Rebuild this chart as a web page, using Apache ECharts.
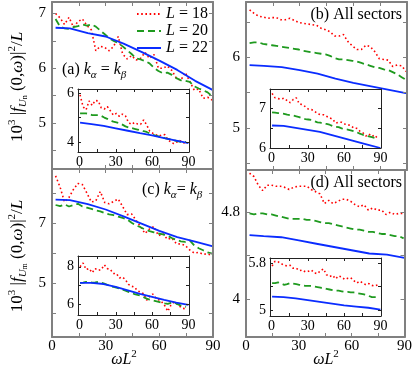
<!DOCTYPE html>
<html>
<head>
<meta charset="utf-8">
<script src="https://cdn.jsdelivr.net/npm/echarts@6/dist/echarts.min.js"></script>
<style>
html, body { margin: 0; padding: 0; background: #fff; }
#chart { width: 415px; height: 368px; }
</style>
</head>
<body>
<div id="chart"></div>
<script>
// x grids
var xMain = [2,4.5,7,9.5,12,14.5,17,19.5,22,24.5,27,29.5,32,34.5,37,39.5,42,44.5,47,49.5,52,54.5,57,59.5,62,64.5,67,69.5,72,74.5,77,79.5,82,84.5,87,89.5];
var xSmooth = [2,10,20,30,40,50,60,70,80,90];
var xIn = [0.5,3,5.5,8,10.5,13,15.5,18,20.5,23,25.5,28,30.5,33,35.5,38,40.5,43,45.5,48,50.5,53,55.5,58,60.5,63,65.5,68,70.5,73,75.5,78,80.5,83,85.5,88];
var xInSmooth = [0.5,10,20,30,40,50,60,70,80,90];

// (a) k_alpha = k_beta, U_n
var aRed = [7.0,6.92,6.8,6.93,6.75,6.85,6.9,6.78,6.7,6.32,6.4,6.38,6.32,6.4,6.58,6.26,6.17,6.23,6.15,6.18,6.29,6.18,6.25,6.0,6.0,6.04,5.96,5.82,5.78,5.92,5.76,5.6,5.62,5.45,5.47,5.42];
var aGreen = [6.9,6.76,6.73,6.72,6.75,6.77,6.8,6.78,6.8,6.76,6.69,6.62,6.55,6.5,6.46,6.4,6.33,6.26,6.18,6.16,6.13,6.09,6.01,5.95,5.91,5.92,5.88,5.82,5.78,5.77,5.75,5.67,5.63,5.6,5.56,5.49];
var aBlue = [6.74,6.73,6.64,6.58,6.45,6.3,6.14,5.97,5.77,5.6];
var iaRed = [5.93,5.44,5.32,5.68,5.5,5.7,5.68,5.4,5.35,5.45,5.28,5.1,5.17,5.05,5.14,5.07,4.8,4.72,4.8,4.74,4.72,4.9,4.7,4.45,4.36,4.3,4.24,4.28,4.3,4.1,4.0,3.93,4.0,4.06,3.96,3.98];
var iaGreen = [5.17,5.17,5.17,5.14,5.1,5.1,5.1,5.07,5.0,4.95,4.89,4.83,4.8,4.77,4.71,4.64,4.6,4.57,4.54,4.51,4.47,4.44,4.41,4.35,4.29,4.26,4.23,4.2,4.16,4.13,4.1,4.07,4.04,4.01,4.0,4.0];
var iaBlue = [4.79,4.73,4.66,4.56,4.46,4.36,4.27,4.16,4.06,3.95];

// (b) all sectors, U_n
var bRed = [6.67,6.62,6.58,6.57,6.55,6.56,6.56,6.53,6.53,6.55,6.52,6.49,6.48,6.47,6.46,6.45,6.41,6.39,6.36,6.3,6.3,6.32,6.22,6.16,6.11,6.11,6.17,6.15,6.08,5.98,5.97,5.96,5.87,5.89,5.88,5.8];
var bGreen = [6.2,6.21,6.21,6.19,6.18,6.17,6.16,6.15,6.14,6.13,6.12,6.11,6.09,6.08,6.07,6.06,6.05,6.04,6.02,5.99,5.97,5.97,5.96,5.95,5.94,5.92,5.9,5.88,5.86,5.85,5.83,5.82,5.79,5.76,5.72,5.68];
var bBlue = [5.89,5.88,5.86,5.82,5.77,5.7,5.64,5.59,5.54,5.49];
var ibRed = [7.36,7.25,7.23,7.22,7.24,7.18,7.13,7.21,7.25,7.1,7.08,7.03,6.97,6.96,6.92,6.86,6.83,6.83,6.79,6.75,6.72,6.62,6.64,6.64,6.6,6.58,6.56,6.5,6.49,6.42,6.38,6.3,6.35,6.29,6.32,6.22];
var ibGreen = [6.89,6.88,6.87,6.86,6.85,6.83,6.82,6.81,6.79,6.77,6.74,6.72,6.71,6.7,6.67,6.64,6.63,6.61,6.6,6.58,6.55,6.53,6.52,6.49,6.47,6.46,6.44,6.42,6.39,6.36,6.33,6.31,6.29,6.27,6.25,6.23];
var ibBlue = [6.56,6.55,6.5,6.45,6.4,6.32,6.24,6.16,6.08,6.0];

// (c) k_alpha = k_beta, U_m
var cRed = [8.57,8.2,7.7,7.85,8.12,8.32,8.28,8.0,7.7,7.74,8.05,7.68,7.64,7.72,7.8,7.55,7.28,7.3,7.09,6.88,6.65,6.8,6.88,6.58,6.64,6.46,6.5,6.31,6.3,6.25,6.1,6.0,6.02,5.96,5.97,5.92];
var cGreen = [7.6,7.56,7.62,7.55,7.6,7.64,7.55,7.51,7.47,7.42,7.39,7.33,7.29,7.26,7.21,7.17,7.12,7.01,6.92,6.86,6.78,6.73,6.69,6.65,6.62,6.58,6.5,6.44,6.39,6.37,6.42,6.25,6.16,6.09,6.02,5.98];
var cBlue = [7.78,7.76,7.63,7.45,7.22,6.98,6.74,6.53,6.38,6.22];
var icRed = [8.0,8.2,7.85,7.9,7.68,7.9,7.8,7.85,8.1,7.9,7.85,7.64,7.64,7.4,7.45,7.3,7.05,6.95,6.9,6.7,6.63,6.55,6.2,6.4,6.53,6.32,6.22,6.1,5.9,5.6,5.92,6.09,6.01,5.86,5.76,5.73];
var icGreen = [7.13,7.15,7.18,7.16,7.15,7.16,7.18,7.15,7.09,7.03,6.97,6.91,6.87,6.83,6.77,6.71,6.65,6.59,6.53,6.48,6.44,6.36,6.28,6.23,6.19,6.15,6.11,6.07,6.03,6.0,6.05,6.09,6.0,5.93,5.89,5.84];
var icBlue = [7.13,7.13,7.07,6.92,6.73,6.54,6.38,6.22,6.07,5.95];

// (d) all sectors, U_m
var dRed = [5.16,5.13,5.05,5.0,5.05,5.05,5.04,5.04,5.03,5.01,5.03,5.04,5.04,5.04,5.01,4.99,4.97,4.88,4.91,4.88,4.9,4.92,4.92,4.9,4.87,4.85,4.87,4.82,4.84,4.82,4.82,4.78,4.8,4.78,4.79,4.79];
var dGreen = [4.79,4.78,4.79,4.79,4.78,4.78,4.77,4.76,4.75,4.74,4.74,4.74,4.74,4.73,4.73,4.72,4.71,4.7,4.7,4.69,4.68,4.67,4.66,4.65,4.64,4.64,4.63,4.62,4.62,4.61,4.6,4.6,4.59,4.58,4.58,4.56];
var dBlue = [4.59,4.58,4.57,4.54,4.51,4.48,4.45,4.42,4.41,4.38];
var idRed = [5.75,5.83,5.82,5.79,5.76,5.75,5.76,5.71,5.71,5.67,5.68,5.65,5.66,5.68,5.63,5.62,5.67,5.7,5.6,5.57,5.59,5.53,5.58,5.56,5.52,5.54,5.55,5.5,5.46,5.49,5.46,5.43,5.45,5.42,5.41,5.43];
var idGreen = [5.46,5.46,5.47,5.45,5.43,5.44,5.46,5.45,5.44,5.43,5.42,5.41,5.41,5.41,5.4,5.39,5.38,5.37,5.36,5.35,5.34,5.33,5.33,5.32,5.31,5.31,5.3,5.3,5.29,5.28,5.27,5.26,5.24,5.22,5.22,5.22];
var idBlue = [5.23,5.22,5.2,5.17,5.14,5.11,5.08,5.06,5.04,5.01];

var names = ['L = 18', 'L = 20', 'L = 22'];
var xTicksMain = [15, 30, 45, 60, 75];
var xLabelsMain = [0, 30, 60, 90];

var FONT = '"Liberation Serif", "DejaVu Serif", serif';
var RED = '#ff0000', GREEN = '#1f9a1f', BLUE = '#0a2cff';

function pairs(xs, ys) {
  return ys.map(function (y, i) { return [xs[i], y]; });
}

var panels = [
  { grid: {left: 52, top: 2, width: 161, height: 167}, x: [0, 90], y: [4.16, 7.21],
    yTicks: [4.5, 5, 5.5, 6, 6.5, 7], yLabels: [5, 6, 7], xLabels: [],
    xs: xMain, xb: xSmooth, data: [aRed, aGreen, aBlue] },
  { grid: {left: 246, top: 2, width: 161, height: 168}, x: [0, 90], y: [4.41, 6.78],
    yTicks: [4.5, 5, 5.5, 6, 6.5], yLabels: [5, 6], xLabels: [],
    xs: xMain, xb: xSmooth, data: [bRed, bGreen, bBlue] },
  { grid: {left: 52, top: 169, width: 161, height: 168}, x: [0, 90], y: [3.2, 8.8],
    yTicks: [4, 5, 6, 7, 8], yLabels: [5, 7], xLabels: xLabelsMain,
    xs: xMain, xb: xSmooth, data: [cRed, cGreen, cBlue] },
  { grid: {left: 246, top: 170, width: 161, height: 167}, x: [0, 90], y: [3.65, 5.19],
    yTicks: [4, 4.4, 4.8], yLabels: [4, 4.8], xLabels: xLabelsMain,
    xs: xMain, xb: xSmooth, data: [dRed, dGreen, dBlue] },
  { inset: true, grid: {left: 78, top: 89, width: 111, height: 63}, x: [-1.2, 90.5], y: [3.59, 6.17],
    yTicks: [4, 5, 6], yLabels: [4, 6], xLabels: xLabelsMain,
    xs: xIn, xb: xInSmooth, data: [iaRed, iaGreen, iaBlue] },
  { inset: true, grid: {left: 270, top: 89, width: 111, height: 59}, x: [-1.2, 90.5], y: [6.0, 7.47],
    yTicks: [6.5, 7], yLabels: [6, 7], xLabels: xLabelsMain,
    xs: xIn, xb: xInSmooth, data: [ibRed, ibGreen, ibBlue] },
  { inset: true, grid: {left: 78, top: 256, width: 111, height: 59}, x: [-1.2, 90.5], y: [5.4, 8.58],
    yTicks: [6, 7, 8], yLabels: [6, 8], xLabels: xLabelsMain,
    xs: xIn, xb: xInSmooth, data: [icRed, icGreen, icBlue] },
  { inset: true, grid: {left: 270, top: 258, width: 111, height: 58}, x: [-1.2, 90.5], y: [4.9, 5.885],
    yTicks: [5, 5.4, 5.8], yLabels: [5, 5.8], xLabels: xLabelsMain,
    xs: xIn, xb: xInSmooth, data: [idRed, idGreen, idBlue] }
];

var grids = [], xAxes = [], yAxes = [], series = [];

panels.forEach(function (p, gi) {
  var inset = !!p.inset;
  var zAxis = inset ? 22 : 3;
  var frame = { color: inset ? '#222' : '#808080', width: inset ? 1 : 2 };
  var g = Object.assign({}, p.grid);
  if (inset) {
    g.show = true; g.backgroundColor = '#fff'; g.borderWidth = 0; g.z = 20;
  }
  grids.push(g);
  var fs = inset ? 14 : 15;
  ['bottom', 'top'].forEach(function (pos) {
    xAxes.push({
      gridIndex: gi, type: 'value', position: pos, min: p.x[0], max: p.x[1], z: zAxis,
      axisLine: { show: true, onZero: false, lineStyle: frame },
      axisTick: { show: true, inside: true, length: inset ? 3 : 4, customValues: xTicksMain,
                  lineStyle: { color: frame.color, width: 1 } },
      axisLabel: { show: pos === 'bottom' && p.xLabels.length > 0, customValues: p.xLabels,
                   margin: inset ? 3 : 2, color: '#000', fontFamily: FONT, fontSize: fs },
      splitLine: { show: false }
    });
  });
  ['left', 'right'].forEach(function (pos) {
    yAxes.push({
      gridIndex: gi, type: 'value', position: pos, min: p.y[0], max: p.y[1], z: zAxis,
      axisLine: { show: true, onZero: false, lineStyle: frame },
      axisTick: { show: true, inside: true, length: inset ? 3 : 4, customValues: p.yTicks,
                  lineStyle: { color: frame.color, width: 1 } },
      axisLabel: { show: pos === 'left', customValues: p.yLabels,
                   margin: inset ? 4 : 6, color: '#000', fontFamily: FONT, fontSize: fs },
      splitLine: { show: false }
    });
  });
  var styles = [
    { color: RED, width: 1.6, type: [1.6, 2.6] },
    { color: GREEN, width: 1.8, type: [7, 4] },
    { color: BLUE, width: 1.8, type: 'solid' }
  ];
  p.data.forEach(function (ys, k) {
    series.push({
      name: names[k], type: 'line', xAxisIndex: gi * 2, yAxisIndex: gi * 2,
      data: pairs(k === 2 ? p.xb : p.xs, ys),
      symbol: 'none', showSymbol: false, clip: true, animation: false,
      z: inset ? 21 : 2,
      lineStyle: styles[k], itemStyle: { color: styles[k].color }
    });
  });
});

var rich = {
  i: { fontStyle: 'italic', fontFamily: FONT, fontSize: 16, lineHeight: 22 },
  n: { fontFamily: FONT, fontSize: 16, lineHeight: 22 },
  sub: { fontStyle: 'italic', fontFamily: FONT, fontSize: 11, lineHeight: 12, verticalAlign: 'bottom' },
  ss: { fontFamily: FONT, fontSize: 8, lineHeight: 6, verticalAlign: 'bottom' },
  sup: { fontFamily: FONT, fontSize: 11, lineHeight: 12, verticalAlign: 'top' }
};
var richBig = Object.assign({}, rich, {
  i: { fontStyle: 'italic', fontFamily: FONT, fontSize: 17, lineHeight: 22 },
  n: { fontFamily: FONT, fontSize: 17, lineHeight: 22 }
});

function label(x, y, text, align, rot, r) {
  return {
    type: 'text', x: x, y: y, rotation: rot || 0, z: 30,
    style: { text: text, rich: r || rich, fill: '#000', font: '16px ' + FONT,
             textAlign: align || 'left', textVerticalAlign: 'middle' }
  };
}

var option = {
  backgroundColor: '#fff',
  animation: false,
  grid: grids,
  xAxis: xAxes,
  yAxis: yAxes,
  series: series,
  legend: {
    data: names, orient: 'vertical', left: 136, top: 6, padding: 0,
    itemWidth: 24, itemHeight: 10, itemGap: 1,
    itemStyle: { opacity: 0 },
    textStyle: { fontFamily: FONT, fontSize: 16, color: '#000', lineHeight: 15,
                 rich: { i: { fontStyle: 'italic', fontFamily: FONT, fontSize: 16 } } },
    formatter: function (name) { return '{i|L}' + name.slice(1); }
  },
  graphic: [
    label(62, 70, '{n|(a) }{i|k}{sub|α}{n| = }{i|k}{sub|β}'),
    label(142, 190, '{n|(c) }{i|k}{sub|α}{n|= }{i|k}{sub|β}'),
    label(402, 15, '{n|(b) All sectors}', 'right'),
    label(402, 183, '{n|(d) All sectors}', 'right'),
    label(18, 87, '{n|10}{sup|3}{n| |}{i|f}{sub|U}{ss|n}{n| (0,}{i|ω}{n|)|}{sup|2}{n|/}{i|L}', 'center', Math.PI / 2, richBig),
    label(18, 256, '{n|10}{sup|3}{n| |}{i|f}{sub|U}{ss|m}{n| (0,}{i|ω}{n|)|}{sup|2}{n|/}{i|L}', 'center', Math.PI / 2, richBig),
    label(124, 360, '{i|ωL}{sup|2}', 'center'),
    label(326, 360, '{i|ωL}{sup|2}', 'center')
  ]
};

var chart = echarts.init(document.getElementById('chart'), null, { renderer: 'canvas' });
chart.setOption(option);
</script>
</body>
</html>
